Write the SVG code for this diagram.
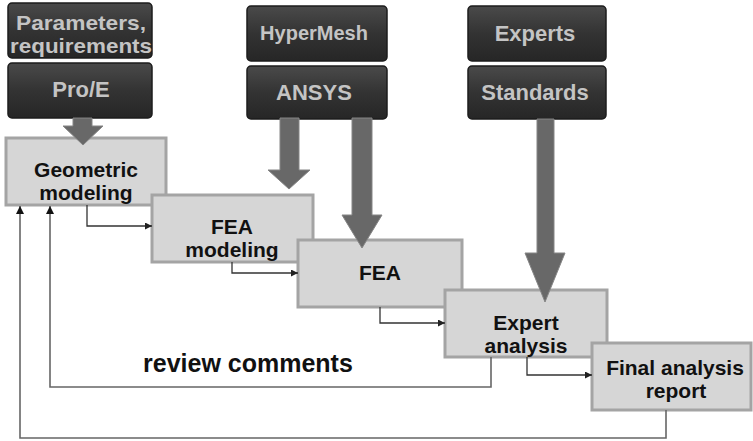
<svg xmlns="http://www.w3.org/2000/svg" width="753" height="441" viewBox="0 0 753 441">
<defs>
<linearGradient id="dark" x1="0" y1="0" x2="0" y2="1">
<stop offset="0" stop-color="#4a4a4a"/>
<stop offset="0.5" stop-color="#333"/>
<stop offset="1" stop-color="#262626"/>
</linearGradient>
<marker id="ah" viewBox="0 0 10 10" refX="10" refY="5" markerWidth="7" markerHeight="7" markerUnits="userSpaceOnUse" orient="auto">
<path d="M0,0 L10,5 L0,10 z" fill="#222"/>
</marker>
<marker id="ah2" viewBox="0 0 10 10" refX="10" refY="5" markerWidth="8" markerHeight="8" markerUnits="userSpaceOnUse" orient="auto">
<path d="M0,0 L10,5 L0,10 z" fill="#111"/>
</marker>
</defs>
<style>
.tool rect{fill:url(#dark);stroke:#1c1c1c;stroke-width:1.5}
.tool text{font-family:"Liberation Sans",Arial,sans-serif;font-weight:bold;fill:#c4c4c4;text-anchor:middle}
.step rect{fill:#d6d6d6;stroke:#a4a4a4;stroke-width:3}
.step text{font-family:"Liberation Sans",Arial,sans-serif;font-weight:bold;font-size:21px;fill:#111;text-anchor:middle}
.big{fill:#686868;stroke:#858585;stroke-width:1}
.thin{fill:none;stroke:#333;stroke-width:1.3}
.fb{fill:none;stroke:#666;stroke-width:1.6}
.lbl{font-family:"Liberation Sans",Arial,sans-serif;font-weight:bold;font-size:25px;fill:#111}
</style>
<rect width="753" height="441" fill="#fff"/>

<g id="params" class="tool"><rect x="8" y="3" width="144" height="55" rx="4"/><text x="81" y="30" font-size="21" textLength="130" lengthAdjust="spacingAndGlyphs">Parameters,</text><text x="81" y="53" font-size="21" textLength="142" lengthAdjust="spacingAndGlyphs">requirements</text></g>
<g id="proe" class="tool"><rect x="8" y="63" width="144" height="55" rx="4"/><text x="81" y="97" font-size="22">Pro/E</text></g>
<g id="hypermesh" class="tool"><rect x="247" y="6" width="140" height="55" rx="4"/><text x="314" y="40" font-size="20">HyperMesh</text></g>
<g id="ansys" class="tool"><rect x="247" y="66" width="140" height="53" rx="4"/><text x="314" y="100" font-size="22">ANSYS</text></g>
<g id="experts" class="tool"><rect x="468" y="6" width="138" height="55" rx="4"/><text x="535" y="41" font-size="22">Experts</text></g>
<g id="standards" class="tool"><rect x="468" y="66" width="138" height="53" rx="4"/><text x="535" y="100" font-size="22">Standards</text></g>

<g id="geometric" class="step"><rect x="6" y="138" width="160" height="67"/><text x="86" y="177">Geometric</text><text x="86" y="200">modeling</text></g>
<g id="feamodeling" class="step"><rect x="152" y="195" width="161" height="67"/><text x="232" y="234">FEA</text><text x="232" y="257">modeling</text></g>
<g id="fea" class="step"><rect x="298" y="240" width="164" height="67"/><text x="380" y="280">FEA</text></g>
<g id="expert" class="step"><rect x="445" y="290" width="162" height="67"/><text x="526" y="330">Expert</text><text x="526" y="353">analysis</text></g>
<g id="final" class="step"><rect x="592" y="343" width="159" height="67"/><text x="675" y="375">Final analysis</text><text x="676" y="398">report</text></g>

<g id="connectors">
<path class="big" d="M73,118 H92 V126 H103 L83,145 L63,126 H73 Z"/>
<path class="big" d="M280,118 H299 V170 H310 L289,189 L268,170 H280 Z"/>
<path class="big" d="M352,118 H372 V215 H382 L362,248 L342,215 H352 Z"/>
<path class="big" d="M537,119 H554 V253 H565 L545,302 L525,253 H537 Z"/>
<path class="thin" d="M87,205 V226 H152" marker-end="url(#ah)"/>
<path class="thin" d="M232,262 V273 H298" marker-end="url(#ah)"/>
<path class="thin" d="M380,307 V323 H445" marker-end="url(#ah)"/>
<path class="thin" d="M527,357 V375 H592" marker-end="url(#ah)"/>
<path class="fb" d="M491,357 V387 H50 V206" marker-end="url(#ah2)"/>
<path class="fb" d="M666,410 V438 H20 V206" marker-end="url(#ah2)"/>
</g>
<text class="lbl" x="143" y="372">review comments</text>
</svg>
